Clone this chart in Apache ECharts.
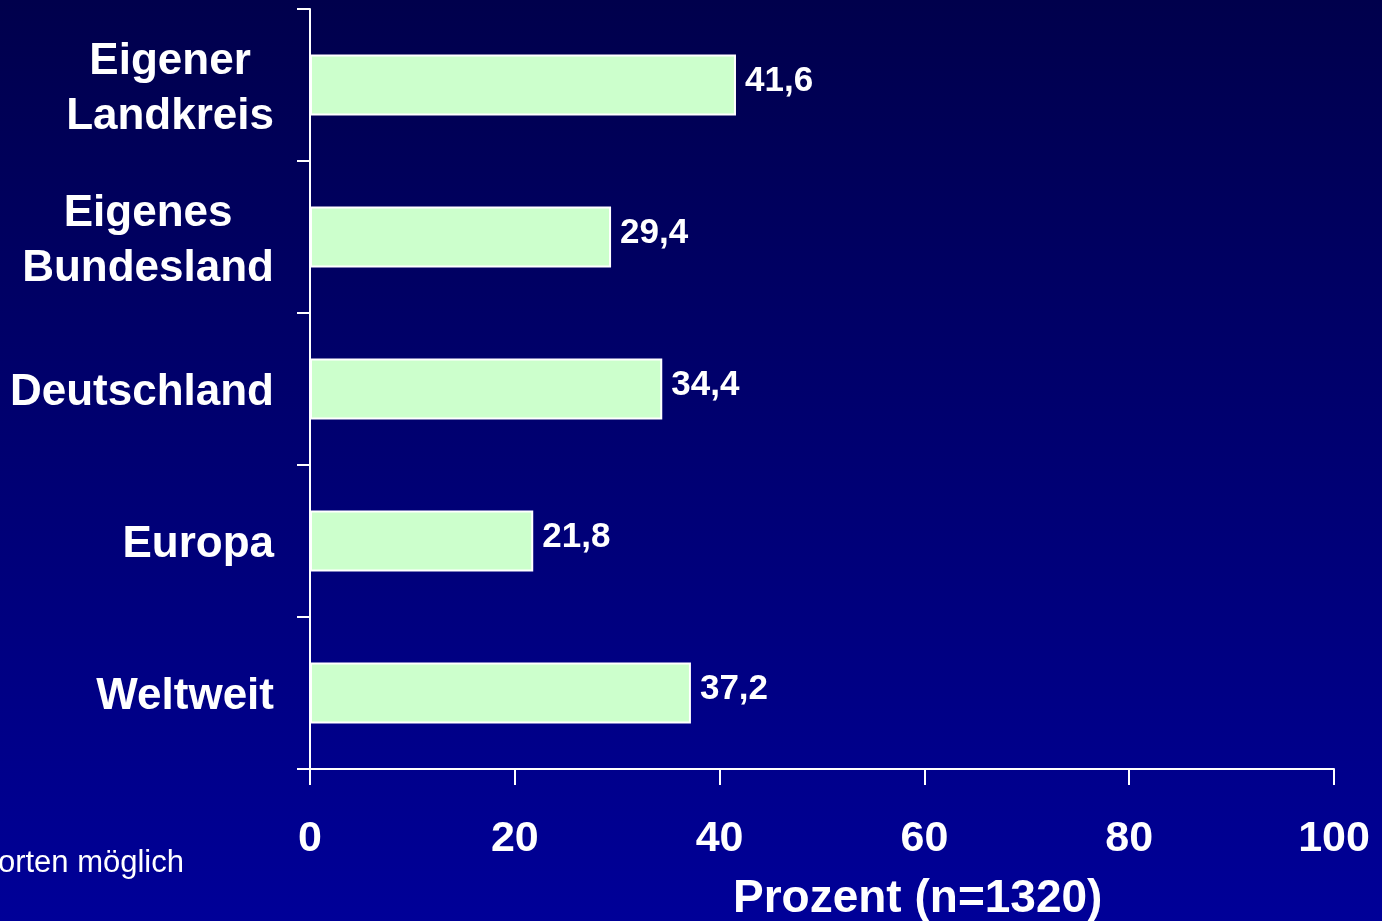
<!DOCTYPE html>
<html>
<head>
<meta charset="utf-8">
<script src="https://cdn.jsdelivr.net/npm/echarts@6/dist/echarts.min.js"></script>
<style>
  html, body { margin: 0; padding: 0; background: #000050; }
  #chart { width: 1382px; height: 921px; }
</style>
</head>
<body>
<div id="chart"></div>
<script>
// Regions (top to bottom) and share of respondents in percent
const categories = ['Eigener\nLandkreis', 'Eigenes\nBundesland', 'Deutschland', 'Europa', 'Weltweit'];
const values = [41.6, 29.4, 34.4, 21.8, 37.2];
const xTicks = [0, 20, 40, 60, 80, 100];
const axisTitle = 'Prozent (n=1320)';
const footnote = 'Mehrfachantworten möglich';

const FONT = '"Liberation Sans", Arial, sans-serif';
const chart = echarts.init(document.getElementById('chart'), null, { renderer: 'canvas' });

chart.setOption({
  backgroundColor: {
    type: 'linear', x: 0, y: 0, x2: 0, y2: 1,
    colorStops: [
      { offset: 0, color: '#00004c' },
      { offset: 1, color: '#000098' }
    ]
  },
  animation: false,
  grid: { left: 310, right: 48, top: 9, bottom: 152 },
  xAxis: {
    type: 'value',
    min: xTicks[0],
    max: xTicks[xTicks.length - 1],
    interval: 20,
    splitLine: { show: false },
    axisLine: { show: true, lineStyle: { color: '#ffffff', width: 2 } },
    axisTick: { show: true, length: 16, lineStyle: { color: '#ffffff', width: 2 } },
    axisLabel: {
      color: '#ffffff', fontFamily: FONT, fontWeight: 'bold', fontSize: 43,
      margin: 49
    }
  },
  yAxis: {
    type: 'category',
    data: categories,
    inverse: true,
    axisLine: { show: true, lineStyle: { color: '#ffffff', width: 2 } },
    axisTick: { show: true, length: 13, lineStyle: { color: '#ffffff', width: 2 } },
    axisLabel: {
      margin: 36,
      padding: [8, 0, 0, 0],
      formatter: v => v.split('\n').map(l => '{c|' + l + '}').join('\n'),
      rich: {
        c: {
          align: 'center', color: '#ffffff', fontFamily: FONT,
          fontWeight: 'bold', fontSize: 44, lineHeight: 55
        }
      }
    }
  },
  series: [{
    type: 'bar',
    data: values,
    barWidth: 61,
    itemStyle: { color: '#ccffcc', borderColor: '#ffffff', borderWidth: 2 },
    label: {
      show: true, position: 'right', distance: 9, offset: [0, -4],
      color: '#ffffff', fontFamily: FONT, fontWeight: 'bold', fontSize: 35,
      formatter: p => String(p.value).replace('.', ',')
    }
  }],
  graphic: [
    {
      type: 'text', left: 733, top: 876,
      style: { text: axisTitle, fill: '#ffffff', font: 'bold 46px ' + FONT }
    },
    {
      type: 'text', right: 1198, top: 848,
      style: { text: footnote, fill: '#ffffff', font: '31px ' + FONT, textAlign: 'right' }
    }
  ]
});
</script>
</body>
</html>
